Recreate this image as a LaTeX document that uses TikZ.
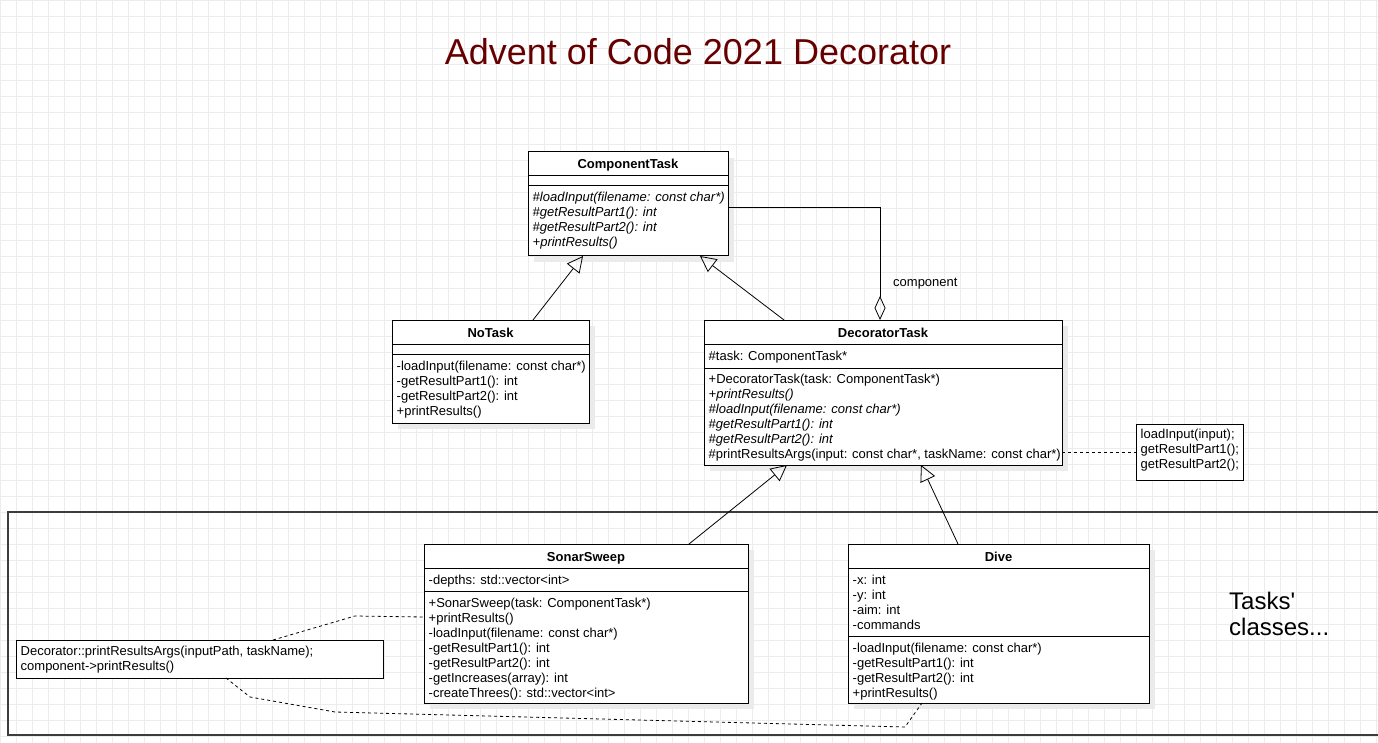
\documentclass[tikz,border=0pt]{standalone}
\usepackage{fontspec}
\setmainfont{Liberation Sans}
\usetikzlibrary{arrows.meta,shadows}
\definecolor{gridc}{RGB}{236,236,236}
\definecolor{titlered}{RGB}{102,0,0}
\definecolor{framec}{RGB}{60,60,60}
\begin{document}
\begin{tikzpicture}[x=1pt,y=-1pt,
  classbox/.style={draw=black, fill=white, line width=1pt, anchor=north west, inner sep=0pt, outer sep=0pt,
    drop shadow={shadow xshift=6pt, shadow yshift=-6pt, fill=black!8, opacity=1}},
  notebox/.style={draw=black, fill=white, line width=1pt, anchor=north west, inner sep=0pt, outer sep=0pt},
  sepline/.style={line width=1pt},
  member/.style={anchor=base west, inner sep=0pt, align=left, font=\fontsize{13}{15}\selectfont},
  classname/.style={anchor=base, inner sep=0pt, font=\bfseries\fontsize{13}{15}\selectfont},
  inherit/.style={line width=0.8pt, -{Triangle[open, length=16pt, width=16pt]}},
  aggr/.style={line width=0.8pt, -{Diamond[open, length=24pt, width=11pt]}},
  noteline/.style={line width=0.8pt, dash pattern=on 3pt off 3pt},
  plainlabel/.style={anchor=base west, inner sep=0pt, font=\fontsize{13}{15}\selectfont}
]
\useasboundingbox (0,0) rectangle (1378,743);
\clip (0,0) rectangle (1378,743);
\fill[white] (0,0) rectangle (1378,743);
\draw[gridc, line width=0.8pt, step=16pt] (0,0) grid (1378,743);

% title
\node[anchor=base, inner sep=0pt, font=\fontsize{36}{40}\selectfont, text=titlered] (title) at (698,65) {Advent of Code 2021 Decorator};

% container frame
\draw[framec, line width=1.3pt] (1400,512) -- (8,512) -- (8,735) -- (1400,735);

% ComponentTask
\node[classbox, minimum width=200pt, minimum height=104pt] (ct) at (528,152) {};
\draw[sepline] (ct.west |- 0,176) -- (ct.east |- 0,176);
\draw[sepline] (ct.west |- 0,186) -- (ct.east |- 0,186);
\node[classname] (ctname) at (ct.north |- 0,169) {ComponentTask};
\node[member, font=\itshape\fontsize{13}{15}\selectfont] (ctops) at (532.5,247) {\#loadInput(filename: const char*)\\\#getResultPart1(): int\\\#getResultPart2(): int\\+printResults()};

% NoTask
\node[classbox, minimum width=197pt, minimum height=103pt] (nt) at (392,320) {};
\draw[sepline] (nt.west |- 0,344) -- (nt.east |- 0,344);
\draw[sepline] (nt.west |- 0,354) -- (nt.east |- 0,354);
\node[classname] (ntname) at (nt.north |- 0,337) {NoTask};
\node[member] (ntops) at (396.5,415) {-loadInput(filename: const char*)\\-getResultPart1(): int\\-getResultPart2(): int\\+printResults()};

% DecoratorTask
\node[classbox, minimum width=358pt, minimum height=145pt] (dt) at (704,320) {};
\draw[sepline] (dt.west |- 0,344) -- (dt.east |- 0,344);
\draw[sepline] (dt.west |- 0,368) -- (dt.east |- 0,368);
\node[classname] (dtname) at (dt.north |- 0,337) {DecoratorTask};
\node[member] (dtattr) at (708.5,360) {\#task: ComponentTask*};
\node[member] (dtops) at (708.5,458) {+DecoratorTask(task: ComponentTask*)\\\textit{+printResults()}\\\textit{\#loadInput(filename: const char*)}\\\textit{\#getResultPart1(): int}\\\textit{\#getResultPart2(): int}\\\#printResultsArgs(input: const char*, taskName: const char*)};

% note right
\node[notebox, minimum width=107pt, minimum height=56pt] (n1) at (1136,424) {};
\node[member] (n1text) at (1140.5,468) {loadInput(input);\\getResultPart1();\\getResultPart2();};

% SonarSweep
\node[classbox, minimum width=324pt, minimum height=159pt] (ss) at (424,544) {};
\draw[sepline] (ss.west |- 0,568) -- (ss.east |- 0,568);
\draw[sepline] (ss.west |- 0,591) -- (ss.east |- 0,591);
\node[classname] (ssname) at (ss.north |- 0,561) {SonarSweep};
\node[member] (ssattr) at (428.5,584) {-depths: std::vector<int>};
\node[member] (ssops) at (428.5,697) {+SonarSweep(task: ComponentTask*)\\+printResults()\\-loadInput(filename: const char*)\\-getResultPart1(): int\\-getResultPart2(): int\\-getIncreases(array): int\\-createThrees(): std::vector<int>};

% Dive
\node[classbox, minimum width=301pt, minimum height=159pt] (dv) at (848,544) {};
\draw[sepline] (dv.west |- 0,568) -- (dv.east |- 0,568);
\draw[sepline] (dv.west |- 0,636) -- (dv.east |- 0,636);
\node[classname] (dvname) at (dv.north |- 0,561) {Dive};
\node[member] (dvattr) at (852.5,629) {-x: int\\-y: int\\-aim: int\\-commands};
\node[member] (dvops) at (852.5,697) {-loadInput(filename: const char*)\\-getResultPart1(): int\\-getResultPart2(): int\\+printResults()};

% note left
\node[notebox, minimum width=367pt, minimum height=38pt] (n2) at (16,640) {};
\node[member] (n2text) at (20.5,670) {Decorator::printResultsArgs(inputPath, taskName);\\component->printResults()};

% Tasks' classes label
\node[anchor=base west, inner sep=0pt, align=left, font=\fontsize{24}{26}\selectfont] (tasks) at (1229,635) {Tasks\textquotesingle\\classes...};

% connectors
\draw[inherit] ([xshift=141pt]nt.north west) -- ([xshift=55pt]ct.south west);
\draw[inherit] ([xshift=80pt]dt.north west) -- ([xshift=172pt]ct.south west);
\draw[inherit] ([xshift=265pt]ss.north west) -- ([xshift=83pt]dt.south west);
\draw[inherit] ([xshift=110pt]dv.north west) -- ([xshift=217pt]dt.south west);
\draw[aggr] ([yshift=-3pt]ct.east) -| ([xshift=176pt]dt.north west);
\node[plainlabel] (complabel) at (893,287) {component};

\draw[noteline] (dt.east |- n1.west) -- (n1.west);
\draw[noteline] ([xshift=257pt]n2.north west) -- (355,616) -- ([yshift=6.5pt]ss.west);
\draw[noteline] ([xshift=210pt]n2.south west) -- (250,697) -- (335,712) -- (905,727) -- ([xshift=74pt]dv.south west);
\end{tikzpicture}
\end{document}
